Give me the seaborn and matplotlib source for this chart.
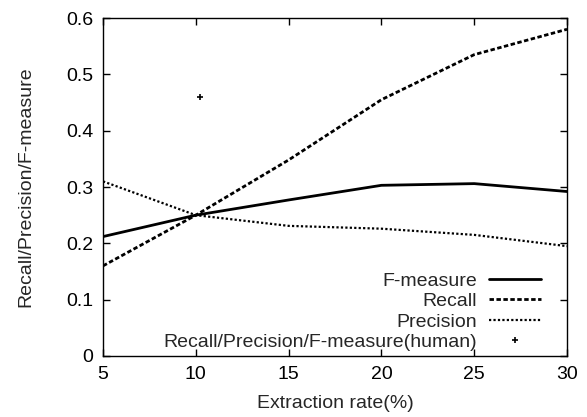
import matplotlib
matplotlib.use("Agg")
import matplotlib.pyplot as plt
import seaborn as sns
import pandas as pd
from matplotlib.lines import Line2D

rates = [5, 10, 15, 20, 25, 30]
f_measure = [0.212, 0.250, 0.277, 0.303, 0.306, 0.292]
recall = [0.160, 0.250, 0.348, 0.455, 0.535, 0.580]
precision = [0.310, 0.250, 0.231, 0.226, 0.215, 0.195]
human_x = [10.2]
human_y = [0.46]

series_names = ["F-measure", "Recall", "Precision"]
human_label = "Recall/Precision/F-measure(human)"

sns.set_style("ticks")
plt.rcParams["font.family"] = ["Liberation Sans", "DejaVu Sans"]
FS = 14
LFS = 14
plt.rcParams["font.size"] = FS

df = pd.DataFrame({
    "rate": rates * 3,
    "value": f_measure + recall + precision,
    "series": [series_names[0]] * 6 + [series_names[1]] * 6 + [series_names[2]] * 6,
})

fig = plt.figure(figsize=(5.87, 4.17), dpi=100)
ax = fig.add_axes([0.1755, 0.1463, 0.7905, 0.8105])

sns.lineplot(data=df, x="rate", y="value", style="series", ax=ax,
             color="black", linewidth=2,
             dashes={"F-measure": "", "Recall": (1.6, 0.9), "Precision": (1, 1)},
             legend=False)
ax.lines[2].set_linewidth(1.6)
sns.scatterplot(x=human_x, y=human_y, marker="+", color="black", s=25,
                linewidth=1.2, ax=ax, legend=False)

handles = [
    Line2D([], [], color="black", lw=2, linestyle="-"),
    Line2D([], [], color="black", lw=2, dashes=(1.6, 0.9)),
    Line2D([], [], color="black", lw=1.6, dashes=(1, 1)),
    Line2D([], [], color="black", lw=0, marker="+", markersize=5, markeredgewidth=1.2),
]
labels = series_names + [human_label]
ax.legend(handles, labels, loc="lower right", frameon=False, markerfirst=False,
          handlelength=2.7, handletextpad=0.6, labelspacing=0.15,
          borderaxespad=0.1, borderpad=0.15, fontsize=LFS,
          bbox_to_anchor=(0.955, 0.0))

ax.set_xlim(5, 30)
ax.set_ylim(0, 0.6)
ax.set_xticks([5, 10, 15, 20, 25, 30])
ax.set_yticks([0, 0.1, 0.2, 0.3, 0.4, 0.5, 0.6])
ax.set_yticklabels(["0", "0.1", "0.2", "0.3", "0.4", "0.5", "0.6"])
ax.tick_params(direction="in", top=True, right=True, length=5, width=1,
               labelsize=FS, colors="black", pad=7)
for s in ax.spines.values():
    s.set_visible(True)
    s.set_linewidth(1)
    s.set_color("black")
ax.set_xlabel("Extraction rate(%)", fontsize=FS, labelpad=9)
ax.set_ylabel("Recall/Precision/F-measure", fontsize=FS, labelpad=23)

fig.savefig("out.png", dpi=100)
